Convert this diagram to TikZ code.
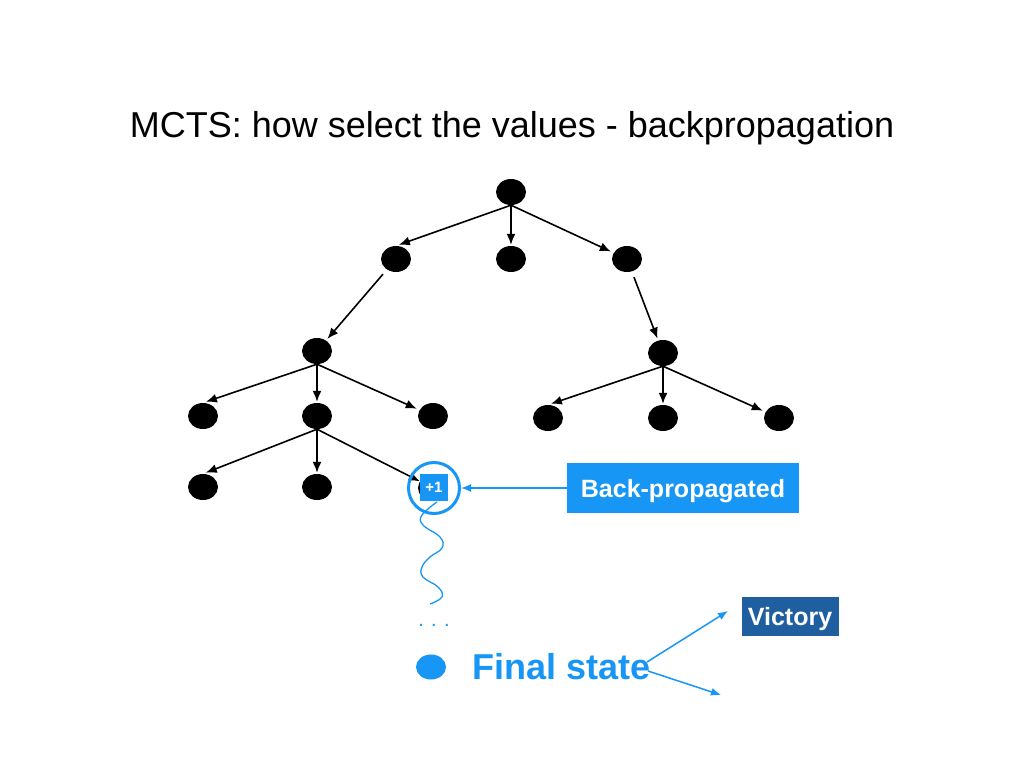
\documentclass[tikz,border=0pt]{standalone}
\usepackage{fontspec}
\setmainfont{Liberation Sans}
\usetikzlibrary{shapes.geometric,arrows.meta}
\definecolor{bpblue}{RGB}{24,150,245}
\definecolor{vicblue}{RGB}{31,95,160}
\tikzset{
  st/.style={ellipse,fill=black,minimum width=30pt,minimum height=26pt,inner sep=0pt},
  arr/.style={line width=1.6pt,-{Latex[length=11pt,width=9pt]},shorten >=3pt},
  barr/.style={line width=1.5pt,bpblue,-{Latex[length=10pt,width=8pt]}},
  lbl/.style={text=white,font=\bfseries\fontsize{25}{28}\selectfont,inner sep=0pt,text height=18pt,text depth=0pt}
}
\begin{document}
\begin{tikzpicture}[x=1pt,y=-1pt]
\useasboundingbox[fill=white] (0,0) rectangle (1024,768);
\node[font=\fontsize{36}{40}\selectfont] (title) at (512,128) {MCTS: how select the values - backpropagation};
% tree nodes
\node[st] (r) at (511,192) {};
\node[st] (a) at (396,259) {};
\node[st] (b) at (511,259) {};
\node[st] (c) at (627,259) {};
\node[st] (a1) at (317,351) {};
\node[st] (c1) at (663,353) {};
\node[st] (d1) at (203,416) {};
\node[st] (d2) at (317,416) {};
\node[st] (d3) at (433,416) {};
\node[st] (e1) at (548,418) {};
\node[st] (e2) at (663,418) {};
\node[st] (e3) at (779,418) {};
\node[st] (f1) at (203,487) {};
\node[st] (f2) at (317,487) {};
\node[st] (f3) at (433,488) {};
% edges
\draw[arr] (r.south) -- (a.north);
\draw[arr,shorten >=1pt] (r.south) -- (b);
\draw[arr] (r.south) -- (c);
\draw[arr,shorten <=6pt,shorten >=2pt] (a) -- (a1);
\draw[arr,shorten <=6pt,shorten >=2pt] (c) -- (c1);
\draw[arr] (a1.south) -- (d1.north);
\draw[arr,shorten >=1pt] (a1.south) -- (d2);
\draw[arr] (a1.south) -- (d3);
\draw[arr] (c1.south) -- (e1.north);
\draw[arr,shorten >=1pt] (c1.south) -- (e2);
\draw[arr] (c1.south) -- (e3);
\draw[arr] (d2.south) -- (f1.north);
\draw[arr,shorten >=1pt] (d2.south) -- (f2);
\draw[arr,shorten >=0pt] (d2.south) -- (f3);
% +1 marker
\node[draw=bpblue,line width=3pt,circle,minimum size=51pt,inner sep=0pt] (ring) at (434,488) {};
\node[fill=bpblue,text=white,font=\bfseries\fontsize{15}{16}\selectfont,minimum width=28pt,minimum height=27pt,inner sep=0pt] (plus) at (434,487) {+1};
% back-propagated label
\node[fill=bpblue,lbl,minimum width=232pt,minimum height=50pt] (bp) at (683,488) {Back-propagated};
\draw[barr] (bp.west) -- (ring.east);
% wavy rollout
\draw[bpblue,line width=1.3pt] plot[smooth,tension=0.7] coordinates {(437,502) (422,515) (423,525) (440,537) (442,548) (430,557) (422,567) (423,577) (438,587) (442,597) (430,604)};
\node[text=bpblue,font=\fontsize{20}{22}\selectfont,inner sep=0pt] (dots) at (434,625) {. . .};
\node[ellipse,fill=bpblue,minimum width=30pt,minimum height=25pt,inner sep=0pt] (fin) at (431,667) {};
\node[text=bpblue,font=\bfseries\fontsize{36}{38}\selectfont,inner sep=0pt,anchor=west] (fs) at (472,667) {Final state};
\coordinate (lowend) at (721,695);
\node[fill=vicblue,lbl,minimum width=97pt,minimum height=39pt] (vic) at (790,616) {Victory};
\coordinate (vs) at (647,662);
\coordinate (ls) at (648,671);
\draw[barr] (vs) -- (728,611);
\draw[barr] (ls) -- (lowend);
\end{tikzpicture}
\end{document}
